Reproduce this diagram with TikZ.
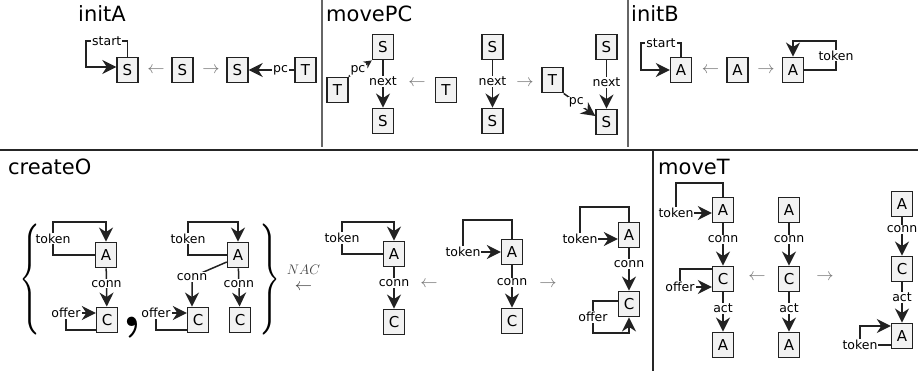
\documentclass[tikz,border=0pt]{standalone}
\usepackage{graphicx}
\usepackage{fontspec}
\setmainfont{DejaVu Sans}
\usetikzlibrary{arrows.meta, positioning}
\definecolor{BoxFill}{HTML}{F2F2F2}
\definecolor{InkDark}{HTML}{222222}
\tikzset{
  gbox/.style={draw=InkDark, line width=1.4pt, fill=BoxFill, minimum width=21pt,
    minimum height=25.5pt, inner sep=0pt, font=\fontsize{15}{15}\selectfont},
  elab/.style={fill=white, inner sep=1pt, font=\fontsize{12.5}{13}\selectfont},
  link/.style={line width=1.5pt, draw=InkDark},
  flow/.style={link, -{Stealth[length=14pt, width=14pt, inset=4.5pt]}},
  flows/.style={link, -{Stealth[length=8pt, width=8pt, inset=2.5pt]}},
  mor/.style={text=black!55, inner sep=0pt, font=\fontsize{17}{17}\selectfont},
  ttl/.style={anchor=base west, inner sep=0pt, font=\fontsize{21}{24}\selectfont},
  brc/.style={inner sep=0pt},
  sepline/.style={line width=1.3pt, draw=black!85},
}

\begin{document}
\begin{tikzpicture}[x=1pt, y=-1pt]
  \useasboundingbox (0,0) rectangle (918,371);
  \draw[sepline] (0,150) -- (918,150);
  \draw[sepline, draw=black!60] (322,0) -- (322,147);
  \draw[sepline, draw=black!60] (628,0) -- (628,147);
  \draw[sepline] (653,150) -- (653,371);

  % initA
  \node[ttl] (tA) at (78,22) {initA};
  \node[gbox] (aS1) at (127.5,70) {S};
  \node[mor] (aL) at (156,70) {$\leftarrow$};
  \node[gbox] (aS2) at (182.5,70) {S};
  \node[mor] (aR) at (211,70) {$\rightarrow$};
  \node[gbox] (aS3) at (237.5,70) {S};
  \node[gbox] (aT) at (305.5,70) {T};
  \draw[flow] (aS1.north) |- node[elab, pos=0.75] {start} (86,41) |- ([yshift=3pt]aS1.west);
  \draw[flow] (aT) -- node[elab, pos=0.3] {pc} (aS3);

  % movePC
  \node[ttl] (tP) at (326,22) {movePC};
  \node[gbox] (pS1) at (383,47) {S};
  \node[gbox] (pT1) at (337.5,90) {T};
  \node[gbox] (pS2) at (383,121) {S};
  \draw[flow] (pS1) -- node[elab, pos=0.45] {next} (pS2);
  \draw[flows] (pT1.north east) -- node[elab, pos=0.4] {pc} (pS1.south west);
  \node[mor] (pL) at (417,83) {$\leftarrow$};
  \node[gbox] (pT2) at (446,90) {T};
  \node[gbox] (pS3) at (492.5,47) {S};
  \node[gbox] (pS4) at (492.5,121) {S};
  \draw[flow] (pS3) -- node[elab, pos=0.45] {next} (pS4);
  \node[mor] (pR) at (525,83) {$\rightarrow$};
  \node[gbox] (pT3) at (552.5,80) {T};
  \node[gbox] (pS5) at (606.5,47) {S};
  \node[gbox] (pS6) at (606.5,122) {S};
  \draw[flow] (pS5) -- node[elab, pos=0.45] {next} (pS6);
  \draw[flow] (pT3.south east) -- node[elab, pos=0.4] {pc} ([yshift=6pt]pS6.west);

  % initB
  \node[ttl] (tB) at (631,22) {initB};
  \node[gbox] (bA1) at (681,70) {A};
  \draw[flow] (bA1.north) |- node[elab, pos=0.75] {start} (641,43) |- (bA1.west);
  \node[mor] (bL) at (710.5,70) {$\leftarrow$};
  \node[gbox] (bA2) at (737.5,70) {A};
  \node[mor] (bR) at (766,70) {$\rightarrow$};
  \node[gbox] (bA3) at (793,70) {A};
  \draw[flow] (bA3.east) -| node[elab, pos=0.75] {token} (836,41) -| (bA3.north);

  % createO
  \node[ttl] (tO) at (8,175) {createO};
  \node[brc] (lb) at (30,279.5) {\scalebox{2.6}[3.7]{$\Bigg\{$}};
  \node[gbox] (oA1) at (106,255) {A};
  \node[gbox] (oC1) at (107,320) {C};
  \draw[flow] (oA1) -- node[elab, pos=0.4] {conn} (oC1);
  \draw[flow] (oA1.west) -| node[elab, pos=0.75] {token} (53,222) -| (oA1.north);
  \draw[flow] ([yshift=-10pt]oC1.west) -| (66,313) node[elab] {offer} -- ([yshift=7pt]oC1.west);
  \node[anchor=base, inner sep=0pt] (cm) at (132,326) {\scalebox{6}{\boldmath$,$}};
  \node[gbox] (oA2) at (238,255) {A};
  \node[gbox] (oC2) at (198,320) {C};
  \node[gbox] (oC3) at (240,320) {C};
  \draw[flow] (oA2.west) -| node[elab, pos=0.75] {token} (188,222) -| (oA2.north);
  \draw[flow] ([yshift=-7pt]oA2.west) -- (192,277) node[elab] {conn} -- ([xshift=-6pt]oC2.north);
  \draw[flow] (oA2) -- node[elab, pos=0.4] {conn} (oC3);
  \draw[flow] ([yshift=-10pt]oC2.west) -| (156,313) node[elab] {offer} -- ([yshift=7pt]oC2.west);
  \node[brc] (rb) at (269.5,279.5) {\scalebox{2.6}[3.7]{$\Bigg\}$}};
  \node[mor, text=black!75, align=center, inner sep=0pt] (nac) at (303.5,278)
    {\scalebox{0.8}{$NAC$}\\[-1pt]$\leftarrow$};

  \node[gbox] (lA) at (394,254) {A};
  \node[gbox] (lC) at (394,322) {C};
  \draw[flow] (lA.west) -| node[elab, pos=0.75] {token} (342,222) -| (lA.north);
  \draw[flow] (lA) -- node[elab, pos=0.38] {conn} (lC);
  \node[mor] (lL) at (429,284) {$\leftarrow$};

  \node[gbox] (mA) at (512,252) {A};
  \node[gbox] (mC) at (512,321) {C};
  \draw[flow] (mA.north) |- (463,220) |- node[elab, pos=0.5] {token} (mA.west);
  \draw[flow] (mA) -- node[elab, pos=0.4] {conn} (mC);
  \node[mor] (mR) at (548,284) {$\rightarrow$};

  \node[gbox] (rA) at (629,235) {A};
  \node[gbox] (rC) at (629,304) {C};
  \draw[flow] (rA.north) |- (580,207) |- node[elab, pos=0.5] {token} ([yshift=-4pt]rA.west);
  \draw[flow] (rA) -- node[elab, pos=0.37] {conn} (rC);
  \draw[flow] ([yshift=3pt]rC.west) -| node[elab, pos=0.75] {offer} (593,333) -| (rC.south);

  % moveT
  \node[ttl] (tT) at (658,175) {moveT};
  \node[gbox] (tA1) at (723,210) {A};
  \node[gbox] (tC1) at (723,279) {C};
  \node[gbox] (tA2) at (723,345) {A};
  \draw[flow] (tA1.north) |- (676,183) |- node[elab, pos=0.5] {token} ([yshift=-3pt]tA1.west);
  \draw[flow] (tA1) -- node[elab, pos=0.38] {conn} (tC1);
  \draw[flow] ([yshift=10pt]tC1.west) -| (680,287) node[elab] {offer} -- ([yshift=-8pt]tC1.west);
  \draw[flow] (tC1) -- node[elab, pos=0.4] {act} (tA2);
  \node[mor] (tL) at (757,277) {$\leftarrow$};
  \node[gbox] (tA3) at (789,210) {A};
  \node[gbox] (tC2) at (789,279) {C};
  \node[gbox] (tA4) at (789,345) {A};
  \draw[flow] (tA3) -- node[elab, pos=0.38] {conn} (tC2);
  \draw[flow] (tC2) -- node[elab, pos=0.4] {act} (tA4);
  \node[mor] (tR) at (825,277) {$\rightarrow$};
  \node[gbox] (tA5) at (902,204) {A};
  \node[gbox] (tC3) at (902,269) {C};
  \node[gbox] (tA6) at (902,336) {A};
  \draw[flow] (tA5) -- node[elab, pos=0.31] {conn} (tC3);
  \draw[flow] (tC3) -- node[elab, pos=0.37] {act} (tA6);
  \draw[flow] ([yshift=-9pt]tA6.west) -| node[elab, pos=0.5] {token} (860,326) -- ([yshift=10pt]tA6.west);
\end{tikzpicture}
\end{document}
